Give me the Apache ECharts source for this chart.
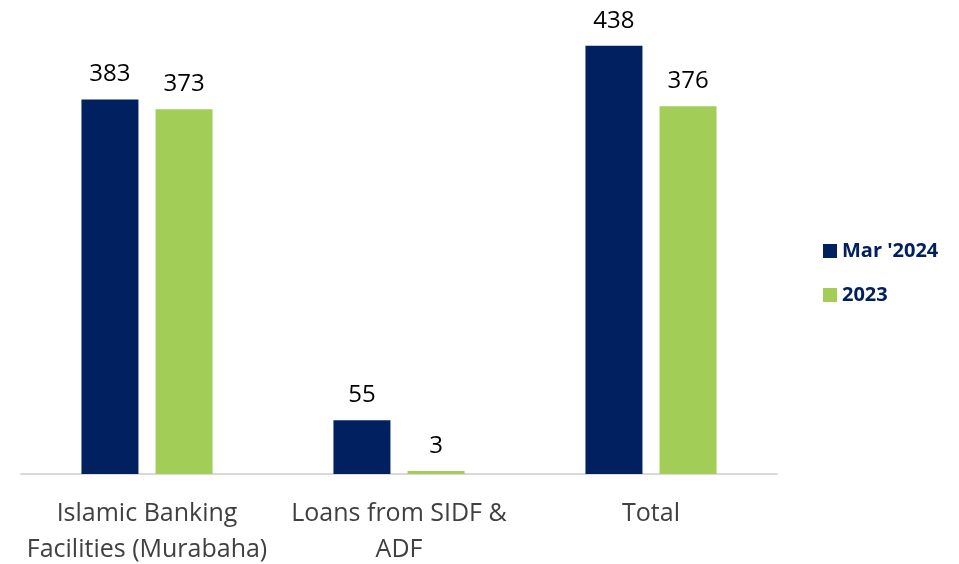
<!DOCTYPE html>
<html>
<head>
<meta charset="utf-8">
<script src="https://cdn.jsdelivr.net/npm/echarts@6/dist/echarts.min.js"></script>
<style>
  html, body { margin: 0; padding: 0; background: #fff; }
  #chart { width: 959px; height: 564px; }
</style>
</head>
<body>
<div id="chart"></div>
<script>
const categories = ['Islamic Banking\nFacilities (Murabaha)', 'Loans from SIDF &\nADF', 'Total']
const seriesNames = ["Mar '2024", '2023']
const mar2024 = [383, 55, 438]
const y2023 = [373, 3, 376]

const colors = ['#002060', '#A2CE58']
const font = '"Open Sans", "Noto Sans", sans-serif'

const chart = echarts.init(document.getElementById('chart'))

const barLabel = {
  show: true,
  position: 'top',
  distance: 13,
  color: '#000',
  fontSize: 24,
  fontFamily: font
}

const option = {
  animation: false,
  color: colors,
  grid: {
    left: 21,
    right: 182,
    top: 34,
    bottom: 90,
    containLabel: false,
    outerBoundsMode: 'none'
  },
  legend: {
    orient: 'vertical',
    left: 818,
    top: 236,
    itemWidth: 14,
    itemHeight: 14,
    itemGap: 24,
    icon: 'rect',
    data: seriesNames,
    textStyle: {
      color: '#002060',
      fontWeight: 'bold',
      fontSize: 20,
      fontFamily: font
    }
  },
  xAxis: {
    type: 'category',
    data: categories,
    axisLine: { show: true, lineStyle: { color: '#D9D9D9', width: 2 } },
    axisTick: { show: false },
    axisLabel: {
      color: '#404040',
      fontSize: 25,
      lineHeight: 36,
      margin: 22,
      fontFamily: font,
      interval: 0
    }
  },
  yAxis: {
    type: 'value',
    min: 0,
    max: 450,
    show: false,
    splitLine: { show: false }
  },
  series: [
    {
      name: seriesNames[0],
      type: 'bar',
      data: mar2024,
      barWidth: 57,
      barGap: '30%',
      label: barLabel
    },
    {
      name: seriesNames[1],
      type: 'bar',
      data: y2023,
      barWidth: 57,
      label: barLabel
    }
  ]
}

chart.setOption(option)
</script>
</body>
</html>
